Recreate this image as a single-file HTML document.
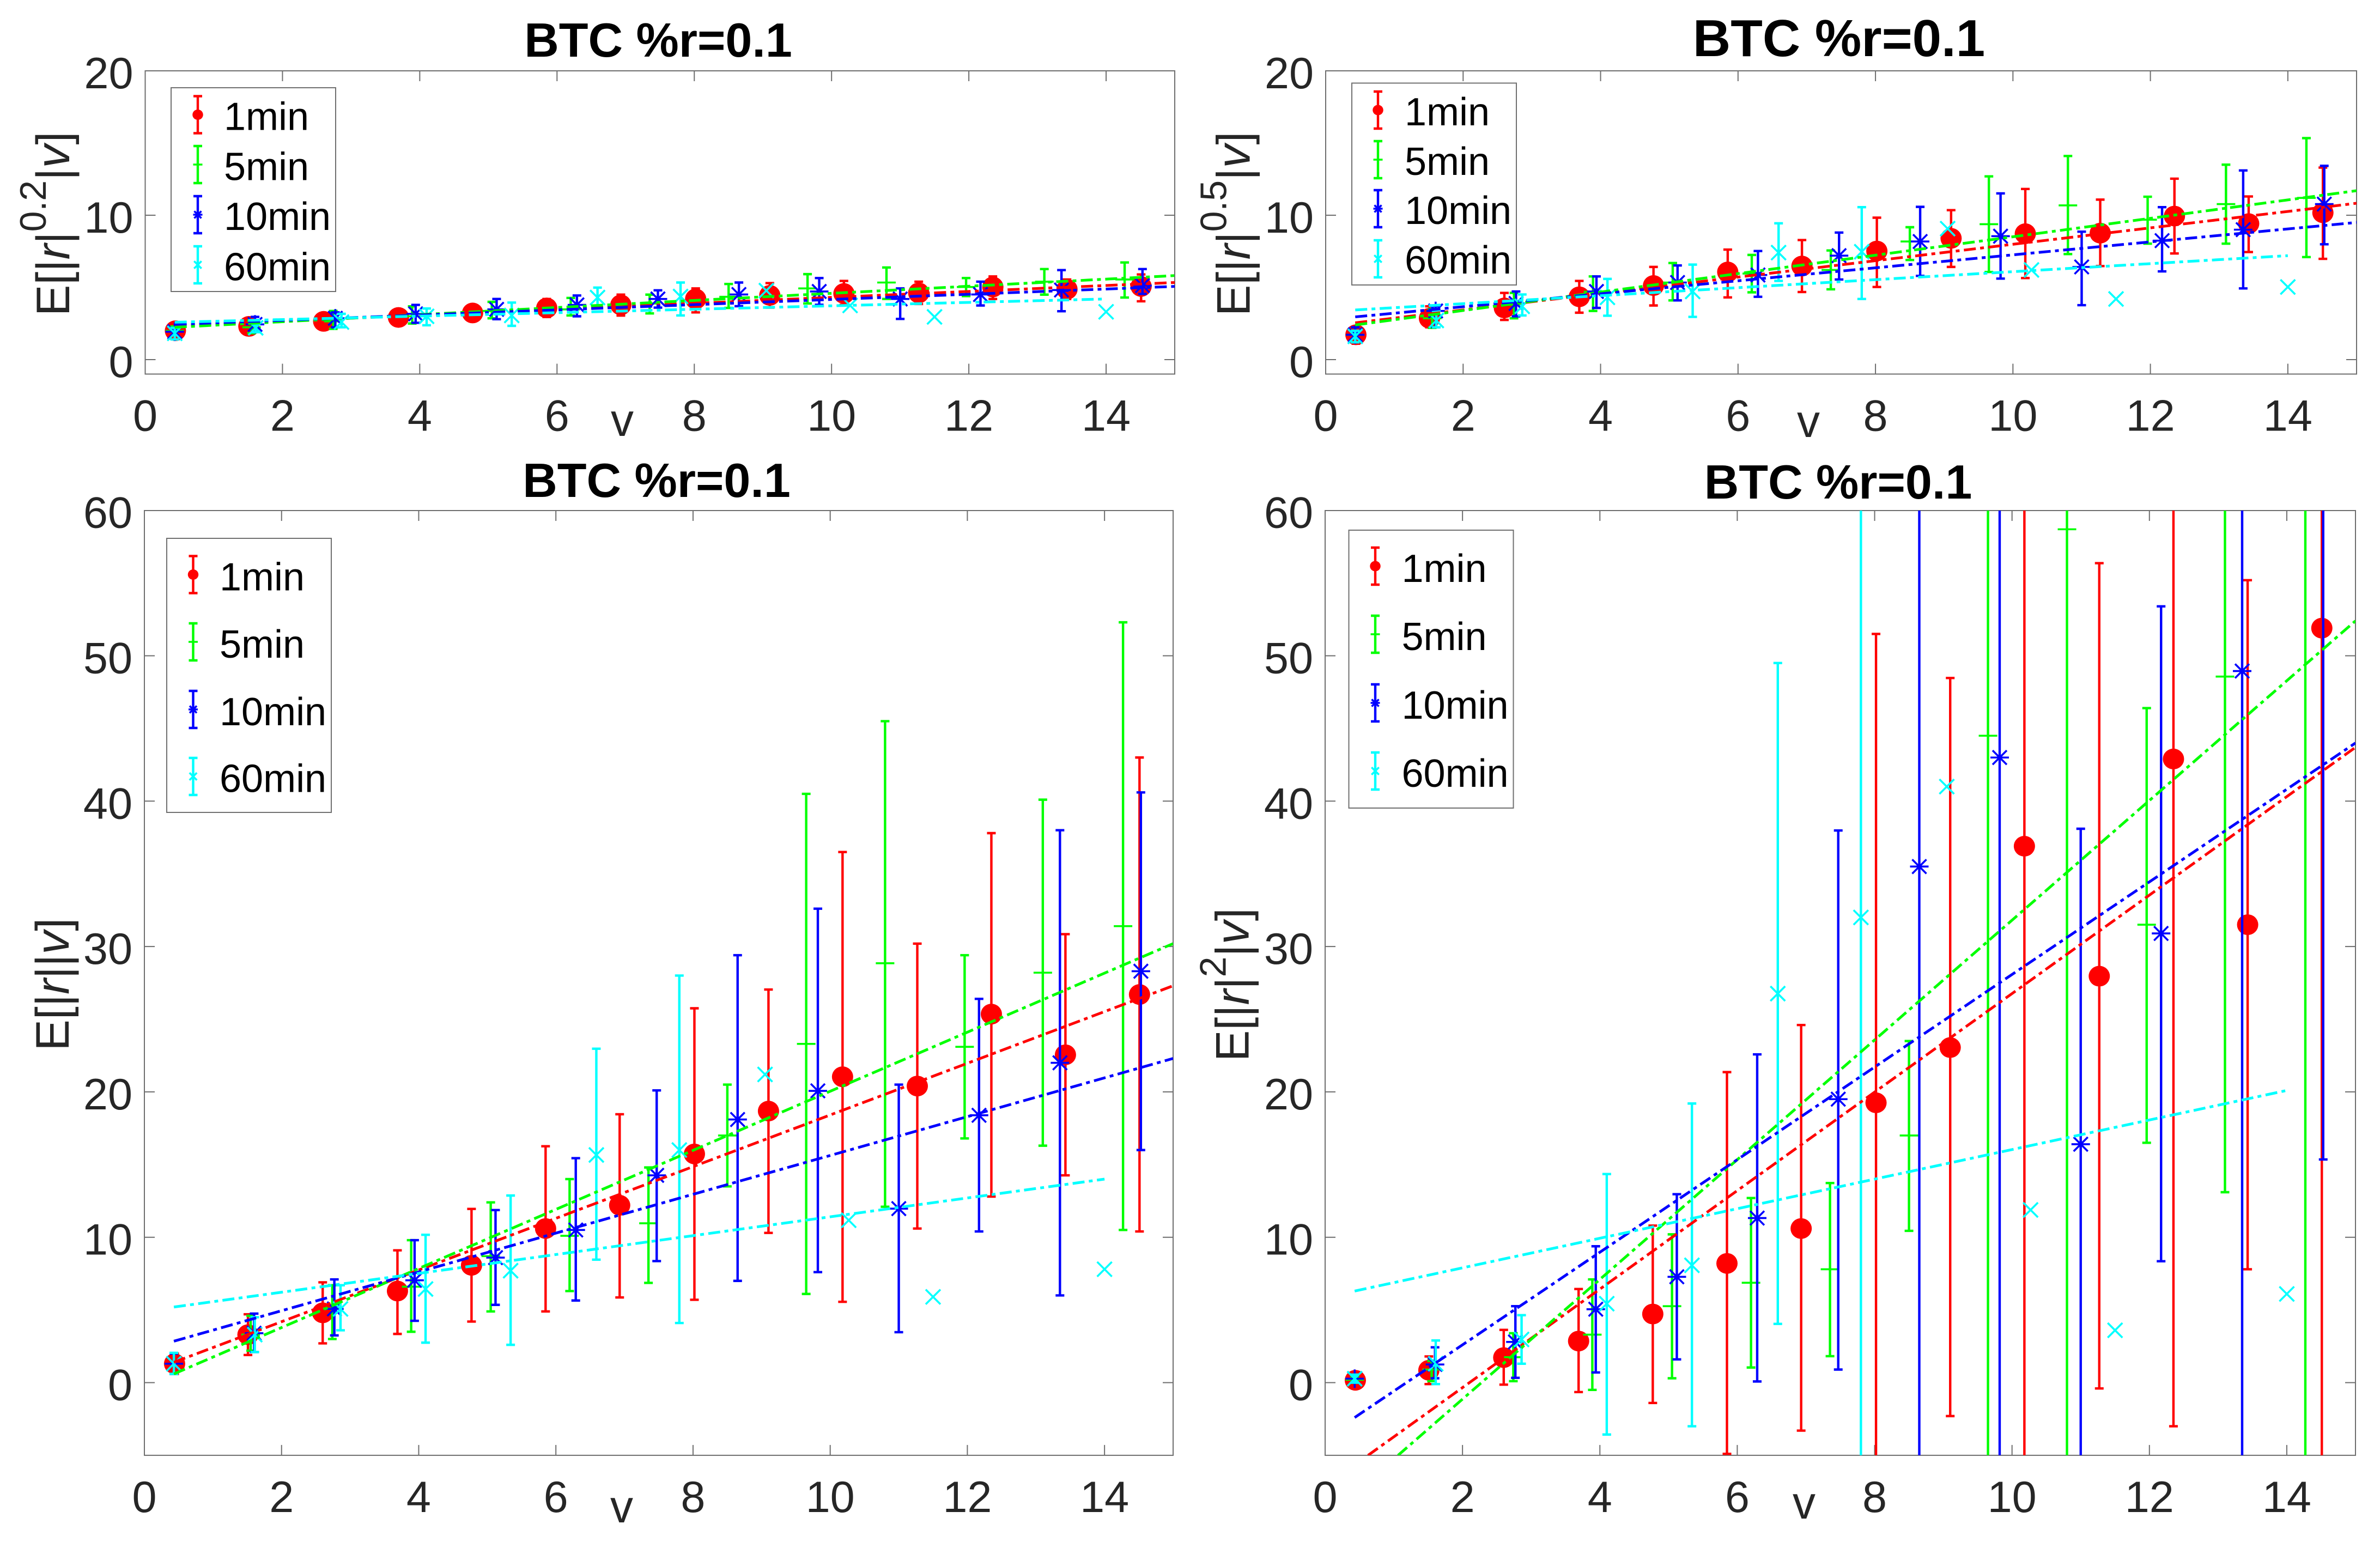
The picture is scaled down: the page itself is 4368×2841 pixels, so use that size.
<!DOCTYPE html>
<html lang="en">
<head>
<meta charset="utf-8">
<title>BTC conditional moments vs volume</title>
<style>
html,body{margin:0;padding:0;background:#fff;overflow:hidden;width:4368px;height:2841px;}
svg{display:block;}
text{font-family:"Liberation Sans",sans-serif;}
.title{font-size:88px;font-weight:bold;fill:#000;text-anchor:middle;}
.ylab{font-size:86px;fill:#262626;}
.xlab{font-size:84px;fill:#262626;text-anchor:middle;}
.leg{font-size:72px;fill:#000;}
.it{font-style:italic;}
</style>
</head>
<body>
<svg id="fig" xmlns="http://www.w3.org/2000/svg" width="4368" height="2841" viewBox="0 0 4368 2841">
<rect width="4368" height="2841" fill="#fff"/>
<g id="plots"></g>

<text class="title" x="1208" y="104">BTC %r=0.1</text>
<text class="title" x="3375" y="103" style="font-size:96px">BTC %r=0.1</text>
<text class="title" x="1205" y="912">BTC %r=0.1</text>
<text class="title" x="3373.5" y="915">BTC %r=0.1</text>

<text class="xlab" x="1142" y="800">v</text>
<text class="xlab" x="3319" y="802">v</text>
<text class="xlab" x="1141" y="2794">v</text>
<text class="xlab" x="3311" y="2787">v</text>

<text class="ylab" transform="translate(127,580) rotate(-90)">E[|<tspan class="it">r</tspan>|<tspan dy="-43" font-size="68">0.2</tspan><tspan dy="43">|</tspan><tspan class="it">v</tspan>]</text>
<text class="ylab" transform="translate(2293.5,580) rotate(-90)">E[|<tspan class="it">r</tspan>|<tspan dy="-43" font-size="68">0.5</tspan><tspan dy="43">|</tspan><tspan class="it">v</tspan>]</text>
<text class="ylab" transform="translate(126,1928.5) rotate(-90)">E[|<tspan class="it">r</tspan>||<tspan class="it">v</tspan>]</text>
<text class="ylab" transform="translate(2291.7,1948) rotate(-90)">E[|<tspan class="it">r</tspan>|<tspan dy="-42" font-size="68">2</tspan><tspan dy="42">|</tspan><tspan class="it">v</tspan>]</text>

<g>
<rect x="314" y="161" width="302" height="374" fill="#fff" stroke="#707070" stroke-width="2"/>
<text class="leg" x="411" y="238.5">1min</text>
<text class="leg" x="411" y="330.5">5min</text>
<text class="leg" x="411" y="422">10min</text>
<text class="leg" x="411" y="514.5">60min</text>
</g>
<g>
<rect x="2481" y="152.5" width="302" height="370.5" fill="#fff" stroke="#707070" stroke-width="2"/>
<text class="leg" x="2578" y="230">1min</text>
<text class="leg" x="2578" y="321">5min</text>
<text class="leg" x="2578" y="411">10min</text>
<text class="leg" x="2578" y="502">60min</text>
</g>
<g>
<rect x="306" y="988" width="302" height="503" fill="#fff" stroke="#707070" stroke-width="2"/>
<text class="leg" x="403" y="1083.5">1min</text>
<text class="leg" x="403" y="1207">5min</text>
<text class="leg" x="403" y="1331">10min</text>
<text class="leg" x="403" y="1453.5">60min</text>
</g>
<g>
<rect x="2475.5" y="973" width="302" height="510" fill="#fff" stroke="#707070" stroke-width="2"/>
<text class="leg" x="2572.5" y="1068">1min</text>
<text class="leg" x="2572.5" y="1193">5min</text>
<text class="leg" x="2572.5" y="1319">10min</text>
<text class="leg" x="2572.5" y="1444">60min</text>
</g>
<g id="legendMarks"></g>
</svg>

<script>
// ---------- shared data ----------
const xTickLabels = [0, 2, 4, 6, 8, 10, 12, 14];
const yTicksTop = [0, 10, 20];
const yTicksBottom = [0, 10, 20, 30, 40, 50, 60];
const v1min = [0.44, 1.51, 2.6, 3.69, 4.77, 5.85, 6.93, 8.02, 9.1, 10.18, 11.27, 12.35, 13.43, 14.51];
const v5min = [0.43, 1.55, 2.74, 3.89, 5.05, 6.2, 7.35, 8.5, 9.65, 10.8, 11.96, 13.1, 14.27];
const v10min = [0.43, 1.6, 2.77, 3.94, 5.12, 6.29, 7.47, 8.65, 9.82, 11, 12.17, 13.35, 14.53];
const v60min = [0.43, 1.61, 2.86, 4.1, 5.34, 6.59, 7.8, 9.05, 10.27, 11.5, 14];
const fitV = [0.43, 15];
const fitV60 = [0.43, 14];

// ---------- panel 1: E[|r|^0.2|v] ----------
const p1Mean1 = [2.0, 2.3, 2.65, 2.92, 3.23, 3.58, 3.79, 4.2, 4.45, 4.58, 4.62, 5.03, 4.87, 5.07];
const p1Low1 = [1.8, 2.0, 2.3, 2.5, 2.75, 2.95, 3.05, 3.27, 3.6, 3.8, 3.85, 4.2, 4.2, 4.04];
const p1High1 = [2.2, 2.6, 3.0, 3.35, 3.75, 4.2, 4.5, 4.93, 5.3, 5.45, 5.4, 5.76, 5.55, 5.9];
const p1Mean5 = [1.99, 2.24, 2.65, 3.0, 3.37, 3.48, 3.89, 4.35, 4.93, 5.34, 5.03, 5.4, 5.55];
const p1Low5 = [1.7, 1.83, 2.13, 2.5, 2.86, 3.06, 3.2, 3.58, 3.89, 4.2, 4.4, 4.5, 4.3];
const p1High5 = [2.3, 2.7, 3.37, 3.69, 4.0, 4.27, 4.5, 5.24, 5.92, 6.38, 5.65, 6.27, 6.73];
const p1Mean10 = [1.93, 2.44, 2.86, 3.17, 3.48, 3.79, 4.2, 4.51, 4.72, 4.2, 4.51, 4.82, 5.13];
const p1Low10 = [1.7, 1.93, 2.24, 2.55, 2.8, 3.0, 3.6, 3.7, 3.8, 2.82, 3.75, 3.35, 4.55];
const p1High10 = [2.2, 2.96, 3.27, 3.79, 4.2, 4.44, 4.8, 5.34, 5.65, 4.93, 5.4, 6.2, 6.27];
const p1Mean60 = [1.82, 2.2, 2.6, 3.0, 3.06, 4.3, 4.37, 4.78, 3.75, 2.96, 3.31];
const p1Low60 = [1.4, 1.9, 2.24, 2.38, 2.34, 3.69, 3.06, null, null, null, null];
const p1High60 = [2.2, 2.45, 3.17, 3.54, 3.95, 4.99, 5.34, null, null, null, null];
const p1Fit1 = [2.34, 5.34];
const p1Fit5 = [2.24, 5.82];
const p1Fit10 = [2.44, 5.07];
const p1Fit60 = [2.59, 4.2];

// ---------- panel 2: E[|r|^0.5|v] ----------
const p2Mean1 = [1.72, 2.86, 3.58, 4.35, 5.13, 6.07, 6.48, 7.52, 8.4, 8.72, 8.76, 9.94, 9.42, 10.17];
const p2Low1 = [1.1, 2.24, 2.75, 3.25, 3.75, 4.31, 4.68, 5.03, 6.42, 5.65, 6.48, 7.35, 7.45, 6.98];
const p2High1 = [2.24, 3.69, 4.62, 5.45, 6.42, 7.62, 8.28, 9.83, 10.35, 11.82, 11.08, 12.53, 11.3, 13.3];
const p2Mean5 = [1.72, 2.86, 3.79, 4.7, 5.34, 5.96, 6.21, 8.18, 9.38, 10.68, 9.69, 10.77, 11.2];
const p2Low5 = [1.2, 2.2, 2.86, 3.37, 4.1, 4.66, 4.87, 6.9, 6.07, 7.31, 8.03, 8.03, 7.1];
const p2High5 = [2.24, 3.5, 4.62, 5.76, 6.69, 7.25, 7.56, 9.17, 12.69, 14.1, 11.28, 13.5, 15.34];
const p2Mean10 = [1.72, 3.37, 3.89, 4.72, 5.34, 5.86, 7.2, 8.18, 8.55, 6.42, 8.24, 9.0, 10.77];
const p2Low10 = [1.2, 2.24, 3.0, 3.58, 4.1, 4.35, 5.55, 5.8, 5.61, 3.77, 6.11, 4.93, 7.99];
const p2High10 = [2.24, 3.69, 4.72, 5.76, 6.52, 7.52, 8.8, 10.58, 11.51, 8.86, 10.56, 13.1, 13.42];
const p2Mean60 = [1.61, 2.71, 3.69, 4.31, 4.72, 7.41, 7.47, 9.07, 6.21, 4.2, 5.03];
const p2Low60 = [1.2, 2.24, 3.06, 3.04, 2.96, 5.45, 4.2, null, null, null, null];
const p2High60 = [2.0, 3.37, 4.51, 5.59, 6.58, 9.44, 10.56, null, null, null, null];
const p2Fit1 = [2.55, 10.83];
const p2Fit5 = [2.4, 11.7];
const p2Fit10 = [2.96, 9.5];
const p2Fit60 = [3.44, 7.2];

// ---------- panel 3: E[|r||v] ----------
const p3Mean1 = [1.3, 3.3, 4.8, 6.3, 8.07, 10.6, 12.2, 15.73, 18.68, 21.04, 20.4, 25.35, 22.55, 26.7];
const p3Low1 = [0.6, 1.9, 2.7, 3.35, 4.2, 4.9, 5.86, 5.7, 10.3, 5.56, 10.6, 12.8, 14.26, 10.4];
const p3High1 = [2.0, 4.7, 6.9, 9.1, 11.95, 16.26, 18.46, 25.75, 27.04, 36.5, 30.2, 37.8, 30.85, 43.0];
const p3Mean5 = [1.3, 3.3, 5.1, 6.6, 8.7, 10.1, 10.96, 17.0, 23.3, 28.85, 23.1, 28.2, 31.4];
const p3Low5 = [0.6, 2.2, 3.0, 3.5, 4.9, 6.3, 6.86, 13.5, 6.1, 12.1, 16.8, 16.3, 10.5];
const p3High5 = [2.0, 4.6, 6.7, 9.8, 12.4, 14.0, 14.8, 20.5, 40.5, 45.5, 29.4, 40.1, 52.3];
const p3Mean10 = [1.3, 3.4, 5.07, 7.04, 8.6, 10.5, 14.26, 18.1, 20.07, 11.97, 18.39, 22.0, 28.3];
const p3Low10 = [0.6, 2.1, 3.25, 4.25, 5.35, 5.65, 8.36, 7.0, 7.6, 3.47, 10.4, 6.0, 16.0];
const p3High10 = [2.0, 4.75, 7.1, 9.8, 11.87, 15.44, 20.1, 29.4, 32.6, 20.5, 26.4, 38.0, 40.6];
const p3Mean60 = [1.3, 3.3, 5.07, 6.44, 7.7, 15.66, 16.0, 21.2, 11.17, 5.9, 7.8];
const p3Low60 = [0.6, 2.1, 3.6, 2.75, 2.6, 8.46, 4.1, null, null, null, null];
const p3High60 = [2.05, 4.5, 6.7, 10.17, 12.87, 22.97, 28.0, null, null, null, null];
const p3Fit1 = [1.4, 27.3];
const p3Fit5 = [0.6, 30.2];
const p3Fit10 = [2.85, 22.3];
const p3Fit60 = [5.2, 14.0];

// ---------- panel 4: E[|r|^2|v] ----------
const p4Mean1 = [0.16, 0.85, 1.72, 2.86, 4.72, 8.2, 10.6, 19.25, 23.05, 36.9, 27.96, 42.9, 31.5, 51.9];
const p4Low1 = [0.0, -0.1, -0.14, -0.65, -1.4, -4.9, -3.3, -10, -2.3, -14, -0.4, -3.0, 7.8, -8];
const p4High1 = [0.32, 1.8, 3.63, 6.44, 10.8, 21.36, 24.6, 51.5, 48.47, 88, 56.37, 89, 55.2, 112];
const p4Mean5 = [0.2, 0.9, 1.75, 3.3, 5.26, 6.87, 7.8, 17.0, 44.5, 58.7, 31.5, 48.57, 62];
const p4Low5 = [0.0, 0.1, 0.1, -0.5, 0.3, 1.04, 1.82, 10.44, -20, -8, 16.5, 13.1, -20];
const p4High5 = [0.4, 1.5, 3.4, 7.1, 10.2, 12.7, 13.73, 23.5, 109, 125, 46.4, 84, 140];
const p4Mean10 = [0.27, 1.25, 2.8, 5.05, 7.28, 11.32, 19.5, 35.5, 43.0, 16.4, 30.9, 48.95, 65];
const p4Low10 = [0.0, 0.3, 0.33, 0.7, 1.6, 0.08, 0.9, -20, -10, -6, 8.35, -7, 15.35];
const p4High10 = [0.55, 2.43, 5.26, 9.38, 12.96, 22.58, 37.98, 90, 96, 38.1, 53.4, 105, 115];
const p4Mean60 = [0.27, 1.3, 2.97, 5.43, 8.07, 26.76, 32.0, 41.0, 11.88, 3.6, 6.1];
const p4Low60 = [0.0, -0.1, 1.3, -3.57, -3.0, 4.04, -8, null, null, null, null];
const p4High60 = [0.55, 2.9, 4.64, 14.35, 19.2, 49.5, 72, null, null, null, null];
const p4Fit1 = [-5.66, 43.7];
const p4Fit5 = [-7.6, 52.4];
const p4Fit10 = [-2.4, 44.0];
const p4Fit60 = [6.3, 20.1];

// ---------- layout ----------
const SVGNS = 'http://www.w3.org/2000/svg';
const colors = ['#ff0000', '#00ff00', '#0000ff', '#00ffff'];
const seriesNames = ['1min', '5min', '10min', '60min'];
const markerKinds = ['dot', 'plus', 'star', 'cross'];
const xs = [v1min, v5min, v10min, v60min];
const fitXs = [fitV, fitV, fitV, fitV60];

const panels = [
  {name:'top-left', left:266.5, right:2156, top:130, bottom:686.5, y0:660, yUnit:26.5, xmax:15, yTicks:yTicksTop,
   labelRight:22, mean:[p1Mean1,p1Mean5,p1Mean10,p1Mean60], low:[p1Low1,p1Low5,p1Low10,p1Low60], high:[p1High1,p1High5,p1High10,p1High60], fit:[p1Fit1,p1Fit5,p1Fit10,p1Fit60]},
  {name:'top-right', left:2433, right:4325, top:130, bottom:686.5, y0:660, yUnit:26.5, xmax:15, yTicks:yTicksTop,
   labelRight:22, mean:[p2Mean1,p2Mean5,p2Mean10,p2Mean60], low:[p2Low1,p2Low5,p2Low10,p2Low60], high:[p2High1,p2High5,p2High10,p2High60], fit:[p2Fit1,p2Fit5,p2Fit10,p2Fit60]},
  {name:'bottom-left', left:265, right:2153, top:937, bottom:2670.9, y0:2537.5, yUnit:26.68, xmax:15, yTicks:yTicksBottom,
   labelRight:22, mean:[p3Mean1,p3Mean5,p3Mean10,p3Mean60], low:[p3Low1,p3Low5,p3Low10,p3Low60], high:[p3High1,p3High5,p3High10,p3High60], fit:[p3Fit1,p3Fit5,p3Fit10,p3Fit60]},
  {name:'bottom-right', left:2432, right:4323, top:937, bottom:2670.9, y0:2537.5, yUnit:26.68, xmax:15, yTicks:yTicksBottom,
   labelRight:22, mean:[p4Mean1,p4Mean5,p4Mean10,p4Mean60], low:[p4Low1,p4Low5,p4Low10,p4Low60], high:[p4High1,p4High5,p4High10,p4High60], fit:[p4Fit1,p4Fit5,p4Fit10,p4Fit60]}
];

const legendLayouts = [
  {x:363, rows:[210.5,302,394,486]},
  {x:2529, rows:[202,293,383,475]},
  {x:354.5, rows:[1054.5,1178,1302,1425]},
  {x:2524, rows:[1039,1164,1290,1415]}
];

function mk(tag, attrs, parent) {
  const el = document.createElementNS(SVGNS, tag);
  for (const k in attrs) el.setAttribute(k, attrs[k]);
  parent.appendChild(el);
  return el;
}

function drawMarker(kind, cx, cy, color, scale, parent) {
  const g = mk('g', {}, parent);
  
  
  if (kind === 'dot') {
    mk('ellipse', {cx:cx, cy:cy, rx:19.5*scale, ry:19*scale, fill:color}, g);
  } else if (kind === 'plus') {
    const h = 17*scale;
    mk('line', {x1:cx-h, y1:cy, x2:cx+h, y2:cy, stroke:color, 'stroke-width':3.6}, g);
  } else if (kind === 'star') {
    const h = 17*scale, d = 13*scale;
    mk('line', {x1:cx-h, y1:cy, x2:cx+h, y2:cy, stroke:color, 'stroke-width':3.6}, g);
    mk('line', {x1:cx, y1:cy-h, x2:cx, y2:cy+h, stroke:color, 'stroke-width':3.6}, g);
    mk('line', {x1:cx-d, y1:cy-d, x2:cx+d, y2:cy+d, stroke:color, 'stroke-width':3.6}, g);
    mk('line', {x1:cx-d, y1:cy+d, x2:cx+d, y2:cy-d, stroke:color, 'stroke-width':3.6}, g);
  } else {
    const d = 13.5*scale;
    mk('line', {x1:cx-d, y1:cy-d, x2:cx+d, y2:cy+d, stroke:color, 'stroke-width':3.6}, g);
    mk('line', {x1:cx-d, y1:cy+d, x2:cx+d, y2:cy-d, stroke:color, 'stroke-width':3.6}, g);
  }
}

const root = document.getElementById('plots');
const defs = mk('defs', {}, root);

panels.forEach(function (p, pi) {
  const unit = (p.right - p.left) / p.xmax;
  const sx = function (v) { return p.left + v * unit; };
  const sy = function (v) { return p.y0 - v * p.yUnit; };
  const clampY = function (py) { return Math.min(p.bottom, Math.max(p.top, py)); };
  const inY = function (py) { return py >= p.top && py <= p.bottom; };

  const clip = mk('clipPath', {id:'clip' + pi}, defs);
  mk('rect', {x:p.left, y:p.top, width:p.right - p.left, height:p.bottom - p.top}, clip);

  const axes = mk('g', {}, root);
  
  

  const box = mk('rect', {x:p.left, y:p.top, width:p.right - p.left, height:p.bottom - p.top, fill:'#fff', stroke:'#6e6e6e', 'stroke-width':2}, axes);
  
  

  xTickLabels.forEach(function (t) {
    const x = sx(t);
    if (t !== 0) {
      const tb = mk('line', {x1:x, y1:p.bottom, x2:x, y2:p.bottom - 19, stroke:'#6e6e6e', 'stroke-width':2}, axes);
      
      
      const tt = mk('line', {x1:x, y1:p.top, x2:x, y2:p.top + 19, stroke:'#6e6e6e', 'stroke-width':2}, axes);
      
      
    }
    const lab = mk('text', {x:x, y:p.bottom + 104, 'text-anchor':'middle', 'font-size':81, fill:'#262626'}, axes);
    
    
    lab.textContent = String(t);
  });

  p.yTicks.forEach(function (t) {
    const y = sy(t);
    if (y > p.top + 1) {
      const tl = mk('line', {x1:p.left, y1:y, x2:p.left + 19, y2:y, stroke:'#6e6e6e', 'stroke-width':2}, axes);
      
      
      const tr = mk('line', {x1:p.right, y1:y, x2:p.right - 19, y2:y, stroke:'#6e6e6e', 'stroke-width':2}, axes);
      
      
    }
    const lab = mk('text', {x:p.left - p.labelRight, y:y + 32, 'text-anchor':'end', 'font-size':81, fill:'#262626'}, axes);
    
    
    lab.textContent = String(t);
  });

  const plot = mk('g', {'clip-path':'url(#clip' + pi + ')'}, root);
  
  

  seriesNames.forEach(function (name, si) {
    const g = mk('g', {}, plot);
    
    
    const c = colors[si];
    xs[si].forEach(function (v, i) {
      const x = sx(v);
      const lo = p.low[si][i], hi = p.high[si][i], m = p.mean[si][i];
      if (lo !== null && hi !== null) {
        const yLo = sy(lo), yHi = sy(hi);
        let d = 'M' + x + ' ' + clampY(yLo) + 'V' + clampY(yHi);
        if (inY(yLo)) d += 'M' + (x - 8) + ' ' + yLo + 'H' + (x + 8);
        if (inY(yHi)) d += 'M' + (x - 8) + ' ' + yHi + 'H' + (x + 8);
        const bar = mk('path', {d:d, fill:'none', stroke:c, 'stroke-width':4.4}, g);
        
        
      }
      if (inY(sy(m))) drawMarker(markerKinds[si], x, sy(m), c, 1, g);
    });
  });

  seriesNames.forEach(function (name, si) {
    const fx = fitXs[si], fy = p.fit[si];
    let x1 = sx(fx[0]), y1 = sy(fy[0]);
    const x2 = sx(fx[1]), y2 = sy(fy[1]);
    if (y1 > p.bottom) {
      // start the fit line where it enters the plot box so nothing extends off the frame
      x1 = x1 + (x2 - x1) * (p.bottom - y1) / (y2 - y1);
      y1 = p.bottom;
    }
    const ln = mk('line', {
      x1:x1, y1:y1, x2:x2, y2:y2,
      stroke:colors[si], 'stroke-width':5, 'stroke-dasharray':'22 8 7 8'
    }, plot);
    
    
  });
});

const lm = document.getElementById('legendMarks');
legendLayouts.forEach(function (l) {
  l.rows.forEach(function (y, si) {
    const g = mk('g', {}, lm);
    
    
    const c = colors[si];
    mk('path', {
      d:'M' + l.x + ' ' + (y - 34) + 'V' + (y + 34) +
        'M' + (l.x - 8) + ' ' + (y - 34) + 'H' + (l.x + 8) +
        'M' + (l.x - 8) + ' ' + (y + 34) + 'H' + (l.x + 8),
      fill:'none', stroke:c, 'stroke-width':4.4
    }, g);
    drawMarker(markerKinds[si], l.x, y, c, 0.5, g);
  });
});
</script>
</body>
</html>
